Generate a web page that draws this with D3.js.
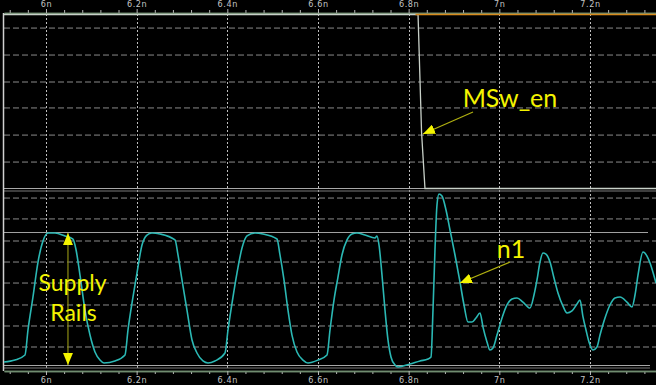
<!DOCTYPE html>
<html>
<head>
<meta charset="utf-8">
<script src="https://cdn.jsdelivr.net/npm/d3@7"></script>
<style>
  html, body { margin: 0; padding: 0; background: #000; overflow: hidden; }
  svg { display: block; }
</style>
</head>
<body>
<svg id="chart" width="656" height="385"></svg>
<script>
"use strict";

// time axis, in ns
const majorTicks = [6, 6.2, 6.4, 6.6, 6.8, 7, 7.2];
const tickLabels = ["6n", "6.2n", "6.4n", "6.6n", "6.8n", "7n", "7.2n"];

// MSw_en, upper panel (1 = high)
const mswTime = [5.9074, 6.8207, 6.8285, 6.836, 7.3456];
const mswVolt = [1, 1, 0.32, 0, 0];
// orange trace sitting on the high level after the switch
const mswHighTime = [6.815, 7.3456];
const mswHighVolt = [1, 1];

// n1, lower panel (0 / 1 = supply rails)
const n1Time = [
    5.9074, 5.9316, 5.9537, 5.9603, 5.9713, 5.9824, 5.9934, 6.0044, 6.0199, 6.0419,
    6.0596, 6.0662, 6.0750, 6.0860, 6.0971, 6.1081, 6.1191, 6.1279, 6.1522, 6.1743,
    6.1809, 6.1919, 6.2007, 6.2118, 6.2228, 6.2338, 6.2515, 6.2846, 6.2912, 6.3000,
    6.3110, 6.3221, 6.3331, 6.3463, 6.3574, 6.3728, 6.3949, 6.4015, 6.4125, 6.4213,
    6.4324, 6.4434, 6.4610, 6.4787, 6.5096, 6.5162, 6.5250, 6.5338, 6.5426, 6.5537,
    6.5669, 6.5779, 6.6000, 6.6199, 6.6265, 6.6353, 6.6441, 6.6529, 6.6640, 6.6750,
    6.6860, 6.7037, 6.7257, 6.7301, 6.7346, 6.7412, 6.7478, 6.7544, 6.7610, 6.7699,
    6.7765, 6.8029, 6.8250, 6.8426, 6.8493, 6.8537, 6.8581, 6.8625, 6.8669, 6.8735,
    6.8824, 6.8912, 6.9022, 6.9132, 6.9221, 6.9309, 6.9397, 6.9485, 6.9574, 6.9640,
    6.9728, 6.9794, 6.9860, 6.9949, 7.0059, 7.0169, 7.0279, 7.0390, 7.0522, 7.0676,
    7.0765, 7.0831, 7.0897, 7.0963, 7.1029, 7.1118, 7.1206, 7.1294, 7.1404, 7.1493,
    7.1603, 7.1713, 7.1779, 7.1846, 7.1912, 7.1978, 7.2066, 7.2154, 7.2221, 7.2331,
    7.2441, 7.2551, 7.2662, 7.2816, 7.2926, 7.2993, 7.3059, 7.3169, 7.3257, 7.3324,
    7.3456
];
const n1Volt = [
    0.026, 0.041, 0.079, 0.267, 0.515, 0.778, 0.936, 0.996, 0.996, 0.974,
    0.951, 0.872, 0.680, 0.417, 0.229, 0.102, 0.041, 0.019, 0.034, 0.079,
    0.267, 0.515, 0.695, 0.906, 0.981, 0.996, 0.989, 0.944, 0.831, 0.643,
    0.417, 0.192, 0.094, 0.034, 0.019, 0.034, 0.094, 0.267, 0.515, 0.695,
    0.883, 0.974, 0.996, 0.989, 0.951, 0.831, 0.643, 0.417, 0.229, 0.102,
    0.041, 0.019, 0.041, 0.079, 0.267, 0.492, 0.665, 0.831, 0.944, 0.989,
    0.996, 0.981, 0.959, 0.974, 0.906, 0.680, 0.417, 0.192, 0.064, 0.004,
    -0.011, 0.011, 0.034, 0.049, 0.064, 0.417, 0.872, 1.207, 1.289, 1.274,
    1.169, 1.019, 0.831, 0.628, 0.455, 0.327, 0.327, 0.357, 0.395, 0.289,
    0.177, 0.117, 0.132, 0.229, 0.357, 0.455, 0.500, 0.508, 0.477, 0.432,
    0.530, 0.643, 0.778, 0.846, 0.838, 0.778, 0.658, 0.545, 0.447, 0.395,
    0.410, 0.462, 0.492, 0.365, 0.267, 0.177, 0.117, 0.139, 0.229, 0.357,
    0.455, 0.508, 0.515, 0.477, 0.440, 0.530, 0.680, 0.853, 0.823, 0.771,
    0.620
];

// horizontal grid levels of each panel
const upperGrid = [0.152, 0.307, 0.463, 0.612, 0.767, 0.922];
const lowerGrid = [0.139, 0.297, 0.455, 0.620, 0.778, 0.936, 1.102, 1.259];

(function () {
    window.addEventListener("load", init);

    const W = 656, H = 385;

    function init() {
        const svg = d3.select("#chart");
        svg.append("rect").attr("width", W).attr("height", H).attr("fill", "#000");

        const x = d3.scaleLinear().domain([5.9074, 7.3456]).range([4, 656]);
        const yTop = d3.scaleLinear().domain([0, 1]).range([188.5, 14.5]);
        const yBot = d3.scaleLinear().domain([0, 1]).range([365.5, 232.5]);

        addGrid(svg, x, yTop, yBot);
        addAxes(svg, x);
        addTraces(svg, x, yTop, yBot);
        addNotes(svg, x, yTop, yBot);
    }

    function addGrid(svg, x, yTop, yBot) {
        const g = svg.append("g");
        const [x0, x1] = x.range();

        const levels = upperGrid.map(v => yTop(v)).concat(lowerGrid.map(v => yBot(v)));
        g.selectAll("line.h")
            .data(levels)
            .enter()
            .append("line")
            .attr("x1", x0).attr("x2", x1)
            .attr("y1", d => d).attr("y2", d => d)
            .attr("stroke", "#8a8a8a")
            .attr("stroke-width", 1)
            .attr("stroke-dasharray", "6,3");

        g.selectAll("line.v")
            .data(majorTicks)
            .enter()
            .append("line")
            .attr("x1", d => Math.round(x(d)) + 0.5).attr("x2", d => Math.round(x(d)) + 0.5)
            .attr("y1", 14).attr("y2", 370)
            .attr("stroke", "#bdbdbd")
            .attr("stroke-width", 1)
            .attr("stroke-dasharray", "2,2");

        // panel separator and supply rails
        const sep = yTop(0);
        [sep, sep + 2.5].forEach((y, i) => {
            g.append("line")
                .attr("x1", x0).attr("x2", x1)
                .attr("y1", y).attr("y2", y)
                .attr("stroke", i ? "#7a7a7a" : "#a8a8a8")
                .attr("stroke-width", 1);
        });
        g.append("line")
            .attr("x1", x0).attr("x2", 648)
            .attr("y1", yBot(1)).attr("y2", yBot(1))
            .attr("stroke", "#a0a0a0")
            .attr("stroke-width", 1);
        [yBot(0), yBot(0) + 2.5].forEach((y, i) => {
            g.append("line")
                .attr("x1", x0).attr("x2", 650)
                .attr("y1", y).attr("y2", y)
                .attr("stroke", i ? "#7a7a7a" : "#a8a8a8")
                .attr("stroke-width", 1);
        });

        // left border
        g.append("line")
            .attr("x1", 3.5).attr("x2", 3.5)
            .attr("y1", 13).attr("y2", 371)
            .attr("stroke", "#d0d0d0")
            .attr("stroke-width", 1.5);
    }

    function addAxes(svg, x) {
        const minor = d3.range(5.92, 7.35, 0.04).filter(t => !majorTicks.some(m => Math.abs(m - t) < 1e-6));

        const styleAxis = sel => {
            sel.select(".domain").attr("stroke", "#6f8c6f").attr("stroke-width", 1.5);
            sel.selectAll(".tick line").attr("stroke", "#b8b8b8");
            sel.selectAll(".tick text")
                .attr("fill", "#c4c4c4")
                .style("font-family", "'Liberation Sans Narrow', 'DejaVu Sans Condensed', sans-serif")
                .style("font-size", "9px")
                .style("letter-spacing", "0.6px");
        };

        const top = svg.append("g").attr("transform", "translate(0,13)");
        top.call(d3.axisTop(x).tickValues(minor).tickFormat("").tickSize(3).tickSizeOuter(0));
        top.append("g").call(d3.axisTop(x).tickValues(majorTicks)
            .tickFormat((d, i) => tickLabels[i]).tickSize(4).tickSizeOuter(0).tickPadding(2));
        top.selectAll("g").call(styleAxis);
        top.call(styleAxis);

        const bottom = svg.append("g").attr("transform", "translate(0,371)");
        bottom.call(d3.axisBottom(x).tickValues(minor).tickFormat("").tickSize(3).tickSizeOuter(0));
        bottom.append("g").call(d3.axisBottom(x).tickValues(majorTicks)
            .tickFormat((d, i) => tickLabels[i]).tickSize(4).tickSizeOuter(0).tickPadding(2));
        bottom.selectAll("g").call(styleAxis);
        bottom.call(styleAxis);
    }

    function addTraces(svg, x, yTop, yBot) {
        const zip = (ts, vs) => ts.map((t, i) => [t, vs[i]]);

        const lineTop = d3.line().x(d => x(d[0])).y(d => yTop(d[1]));
        const lineBot = d3.line().x(d => x(d[0])).y(d => yBot(d[1])).curve(d3.curveMonotoneX);

        svg.append("path")
            .attr("d", lineTop(zip(mswTime, mswVolt)))
            .attr("fill", "none")
            .attr("stroke", "#c8d0c8")
            .attr("stroke-width", 1.3);

        svg.append("path")
            .attr("d", lineTop(zip(mswHighTime, mswHighVolt)))
            .attr("fill", "none")
            .attr("stroke", "#d88a1c")
            .attr("stroke-width", 1.3);

        svg.append("path")
            .attr("d", lineBot(zip(n1Time, n1Volt)))
            .attr("fill", "none")
            .attr("stroke", "#2bb8b4")
            .attr("stroke-width", 1.6)
            .attr("stroke-linejoin", "round");
    }

    function addNotes(svg, x, yTop, yBot) {
        const yellow = "#f4f400";
        const defs = svg.append("defs");
        defs.append("marker")
            .attr("id", "head")
            .attr("viewBox", "0 0 12 10")
            .attr("refX", 12).attr("refY", 5)
            .attr("markerWidth", 12).attr("markerHeight", 10)
            .attr("markerUnits", "userSpaceOnUse")
            .attr("orient", "auto-start-reverse")
            .append("path")
            .attr("d", "M0,0 L12,5 L0,10 Z")
            .attr("fill", yellow);

        const g = svg.append("g");

        const arrow = (p0, p1, color, both) => {
            g.append("line")
                .attr("x1", p0[0]).attr("y1", p0[1])
                .attr("x2", p1[0]).attr("y2", p1[1])
                .attr("stroke", color)
                .attr("stroke-width", 1.2)
                .attr("marker-end", "url(#head)")
                .attr("marker-start", both ? "url(#head)" : null);
        };

        const label = (text, p, size) => {
            g.append("text")
                .attr("x", p[0]).attr("y", p[1])
                .attr("text-anchor", "middle")
                .attr("fill", yellow)
                .style("font-family", "Lato, 'Open Sans', sans-serif")
                .style("font-size", size + "px")
                .text(text);
        };

        // supply rails
        arrow([x(6.0485), yBot(0.004)], [x(6.0485), yBot(0.996)], "#8c8c12", true);
        label("Supply", [x(6.0585), yBot(0.561)], 23);
        label("Rails", [x(6.0607), yBot(0.338)], 23);

        // MSw_en
        arrow([x(6.9419), yTop(0.440)], [x(6.8316), yTop(0.313)], "#b0b010", false);
        label("MSw_en", [x(7.0235), yTop(0.468)], 25);

        // n1
        arrow([x(7.0235), yBot(0.778)], [x(6.9132), yBot(0.620)], "#b0b010", false);
        label("n1", [x(7.0257), yBot(0.808)], 25);
    }
})();
</script>
</body>
</html>
